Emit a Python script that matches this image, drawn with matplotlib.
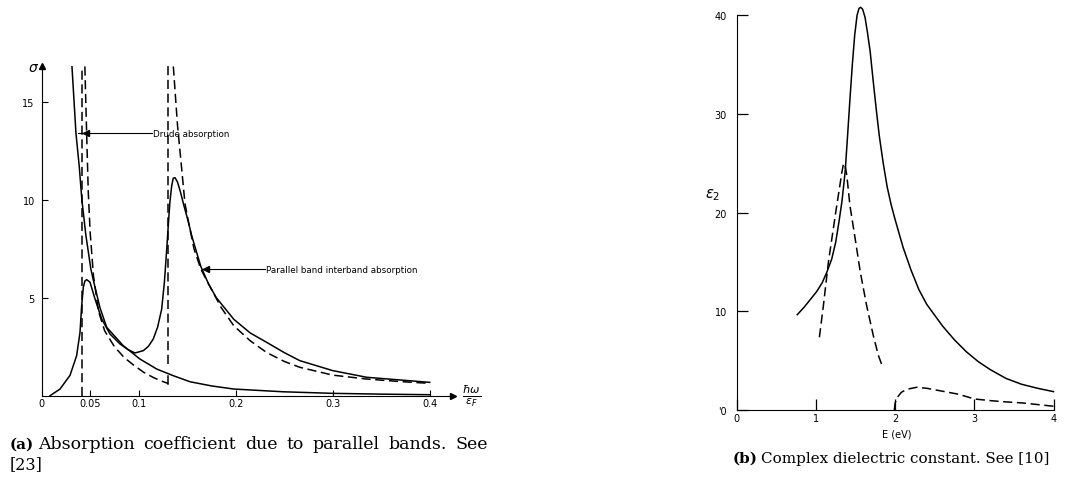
import numpy as np
import matplotlib.pyplot as plt

# ---- panel (a): absorption coefficient, sigma vs hbar*omega/eps_F ----
drude_x = [0.0312, 0.0353, 0.0387, 0.0414, 0.0455, 0.0507, 0.0532, 0.060, 0.067, 0.0841,
           0.1013, 0.1186, 0.1357, 0.153, 0.175, 0.198, 0.249, 0.300, 0.350, 0.400]
drude_y = [16.8, 13.4, 11.7, 10.0, 8.2, 6.46, 5.9, 4.5, 3.49, 2.55,
           1.87, 1.36, 1.02, 0.71, 0.5, 0.34, 0.20, 0.12, 0.08, 0.05]

band_x = [0.0086, 0.0189, 0.0292, 0.036, 0.0395, 0.0412, 0.0429, 0.0445, 0.0464, 0.0498,
          0.055, 0.0619, 0.0704, 0.0807, 0.0890, 0.0962, 0.1048, 0.110, 0.115, 0.1195,
          0.1237, 0.1265, 0.1289, 0.1305, 0.1322, 0.1340, 0.1356, 0.1375, 0.140, 0.143,
          0.1466, 0.151, 0.155, 0.164, 0.172, 0.180, 0.198, 0.215, 0.232, 0.250,
          0.266, 0.300, 0.335, 0.370, 0.400]
band_y = [0.0, 0.34, 1.04, 2.04, 3.23, 4.6, 5.53, 5.85, 5.92, 5.79,
          4.93, 3.91, 3.15, 2.64, 2.35, 2.18, 2.30, 2.52, 2.89, 3.5,
          4.42, 5.8, 7.48, 8.7, 9.9, 10.7, 11.1, 11.12, 10.9, 10.4,
          9.7, 8.9, 8.1, 6.6, 5.7, 5.0, 3.9, 3.2, 2.72, 2.2,
          1.79, 1.28, 0.94, 0.80, 0.68]

ideal1_x = [0.0445, 0.046, 0.048, 0.050, 0.0534, 0.0586, 0.065, 0.075, 0.085, 0.095,
            0.105, 0.115, 0.125, 0.1306]
ideal1_y = [16.8, 14.0, 10.4, 8.3, 6.1, 4.3, 3.3, 2.5, 1.95, 1.55,
            1.2, 0.93, 0.72, 0.62]
ideal2_x = [0.1357, 0.140, 0.1435, 0.1477, 0.152, 0.157, 0.164, 0.171, 0.185, 0.198,
            0.215, 0.232, 0.250, 0.266, 0.300, 0.335, 0.370, 0.400]
ideal2_y = [16.8, 13.8, 12.0, 9.8, 8.7, 7.5, 6.46, 5.8, 4.5, 3.57,
            2.8, 2.2, 1.75, 1.45, 1.05, 0.85, 0.72, 0.63]
edge_x = [0.0414, 0.1306]          # band edges (vertical dashed lines)
edge_bottom = [0.0, 1.6]

# ---- panel (b): epsilon_2 vs E (eV) ----
eps_x = [0.765, 0.85, 0.93, 1.01, 1.08, 1.14, 1.2, 1.25, 1.29, 1.33, 1.37, 1.40, 1.43,
         1.46, 1.49, 1.52, 1.545, 1.566, 1.59, 1.62, 1.65, 1.684, 1.72, 1.76, 1.80,
         1.85, 1.90, 1.95, 2.0, 2.1, 2.2, 2.3, 2.4, 2.5, 2.6, 2.75, 2.9, 3.05, 3.2,
         3.4, 3.6, 3.8, 4.0]
eps_y = [9.66, 10.4, 11.2, 12.0, 12.9, 14.0, 15.3, 17.0, 19.0, 21.2, 24.2, 27.8, 31.5,
         35.0, 38.0, 40.0, 40.7, 40.8, 40.6, 39.8, 38.3, 36.4, 33.6, 30.6, 27.8,
         25.0, 22.6, 20.8, 19.3, 16.5, 14.2, 12.2, 10.7, 9.6, 8.5, 7.1, 5.9, 4.9, 4.1,
         3.2, 2.6, 2.2, 1.86]

intra_x = [1.044, 1.095, 1.158, 1.213, 1.263, 1.30, 1.326, 1.345, 1.356, 1.37, 1.39, 1.43,
           1.495, 1.56, 1.64, 1.726, 1.79, 1.844]
intra_y = [7.37, 10.6, 15.0, 18.0, 20.7, 22.6, 24.0, 24.8, 25.0, 24.7, 23.8, 20.7,
           17.4, 14.0, 10.6, 7.5, 5.5, 4.33]

inter_x = [1.99, 2.0, 2.03, 2.08, 2.15, 2.27, 2.4, 2.6, 2.8, 3.0, 3.2, 3.4, 3.6, 3.8, 4.0]
inter_y = [0.0, 0.7, 1.3, 1.8, 2.1, 2.3, 2.2, 1.9, 1.6, 1.12, 0.95, 0.82, 0.72, 0.55, 0.38]

caption_a = ['Absorption', 'coefficient', 'due', 'to', 'parallel', 'bands.', 'See']

W, H = 1087, 485
fig = plt.figure(figsize=(W / 100, H / 100), dpi=100)

lw = 1.1
dash = (6, 3)
tick_font = dict(fontsize=7, family='DejaVu Sans')

# panel (a)
ax1 = fig.add_axes([41.7 / W, 1 - 396.7 / H, 0.425 * 970 / W, 16.8 * 19.6 / H])
ax1.set_xlim(0, 0.425)
ax1.set_ylim(0, 16.8)
ax1.plot(drude_x, drude_y, color='black', lw=lw)
ax1.plot(band_x, band_y, color='black', lw=lw)
ax1.plot(ideal1_x, ideal1_y, color='black', lw=lw, dashes=dash)
ax1.plot(ideal2_x, ideal2_y, color='black', lw=lw, dashes=dash)
ax1.plot([edge_x[0], edge_x[0]], [edge_bottom[0], 16.8], color='black', lw=lw, dashes=dash)
ax1.plot([edge_x[1], edge_x[1]], [edge_bottom[1], 16.8], color='black', lw=lw, dashes=dash)
ax1.plot([edge_x[1], edge_x[1]], [ideal1_y[-1], 1.0], color='black', lw=lw)

for s in ['top', 'right']:
    ax1.spines[s].set_visible(False)
ax1.spines['left'].set_bounds(0, 16.8)
ax1.plot([0], [16.8], marker='^', color='black', ms=4, clip_on=False)
ax1.plot([0.424], [0], marker='>', color='black', ms=4, clip_on=False)

ax1.set_xticks([0, 0.05, 0.1, 0.2, 0.3, 0.4])
ax1.set_xticklabels(['0', '0.05', '0.1', '0.2', '0.3', '0.4'], **tick_font)
ax1.set_yticks([5, 10, 15])
ax1.set_yticklabels(['5', '10', '15'], **tick_font)
ax1.tick_params(axis='x', direction='in', length=4, width=0.8, pad=2)
ax1.tick_params(axis='y', direction='in', length=4, width=0.8, pad=5)

ax1.text(-0.003, 16.4, r'$\sigma$', fontsize=10, ha='right', va='bottom')
ax1.text(0.4435, 0, r'$\frac{\hbar\omega}{\epsilon_F}$', fontsize=11.5,
         ha='center', va='center', clip_on=False)

ax1.plot([0.037, 0.114], [13.4, 13.4], color='black', lw=0.8)
ax1.plot([0.046], [13.4], marker='<', color='black', ms=4)
ax1.text(0.115, 13.4, 'Drude absorption', fontsize=6.3, va='center')
ax1.plot([0.165, 0.230], [6.46, 6.46], color='black', lw=0.8)
ax1.plot([0.169], [6.46], marker='<', color='black', ms=4)
ax1.text(0.231, 6.46, 'Parallel band interband absorption', fontsize=6.3, va='center')

# panel (b)
ax2 = fig.add_axes([736.7 / W, 1 - 411 / H, 4.05 * 79.2 / W, 41.5 * 9.87 / H])
ax2.set_xlim(0, 4.05)
ax2.set_ylim(0, 41.5)
ax2.plot(eps_x, eps_y, color='black', lw=lw)
ax2.plot(intra_x, intra_y, color='black', lw=lw, dashes=dash)
ax2.plot(inter_x, inter_y, color='black', lw=lw, dashes=dash)

for s in ['top', 'right']:
    ax2.spines[s].set_visible(False)
ax2.spines['left'].set_bounds(0, 40)
ax2.spines['bottom'].set_bounds(0, 4)

ax2.set_xticks([0, 1, 2, 3, 4])
ax2.set_xticklabels(['0', '1', '2', '3', '4'], **tick_font)
ax2.set_yticks([0, 10, 20, 30, 40])
ax2.set_yticklabels(["'0", '10', '20', '30', '40'], **tick_font)
ax2.tick_params(axis='y', direction='in', length=8, width=0.9, pad=7)
ax2.tick_params(axis='x', direction='in', length=8, width=0.9, pad=2)
ax2.set_xlabel('E (eV)', fontsize=7, labelpad=4)
ax2.text(-0.3, 21.9, r'$\epsilon_2$', fontsize=10.5, ha='center', va='center')

# captions
serif = 'DejaVu Serif'
cap_size = 10.9
renderer = fig.canvas.get_renderer()

# first line of caption (a) is justified between x = 38 px and x = 488 px,
# with word gaps of about 9 px, so scale the font until the words fill the rest
words = [fig.text(0, 1 - 449 / H, w, fontsize=cap_size, family=serif, va='baseline')
         for w in caption_a]
natural = sum(t.get_window_extent(renderer).width for t in words)
size_a = cap_size * (488 - 38 - 9 * (len(words) - 1)) / natural
for t in words:
    t.set_fontsize(size_a)
widths = [t.get_window_extent(renderer).width for t in words]
gap = (488 - 38 - sum(widths)) / (len(words) - 1)
x = 38.0
for t, w in zip(words, widths):
    t.set_x(x / W)
    x += w + gap
fig.text(10 / W, 1 - 449 / H, '(a)', fontsize=cap_size, family=serif, weight='bold', va='baseline')
fig.text(10 / W, 1 - 469 / H, '[23]', fontsize=cap_size + 0.6, family=serif, va='baseline')

fig.text(733 / W, 1 - 463 / H, '(b)', fontsize=cap_size, family=serif, weight='bold', va='baseline')
fig.text(761 / W, 1 - 463 / H, 'Complex dielectric constant. See [10]',
         fontsize=cap_size, family=serif, va='baseline')

fig.savefig('out.png', dpi=100)
